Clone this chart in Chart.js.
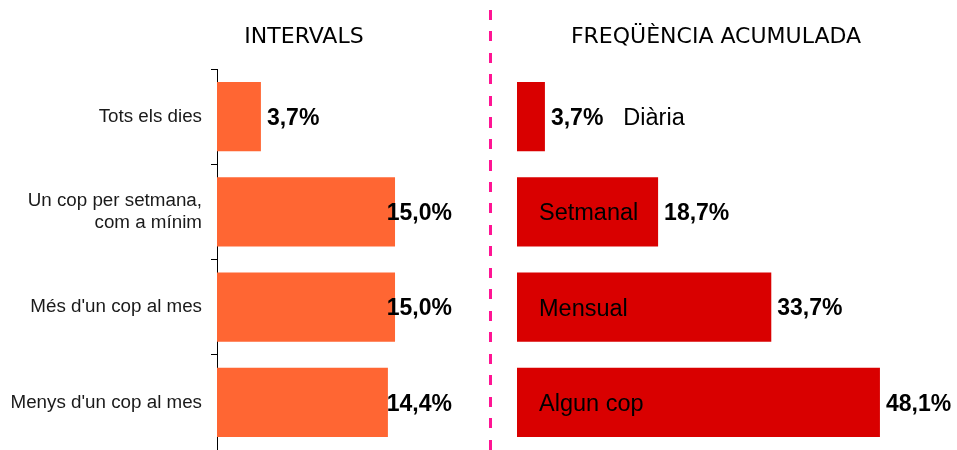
<!DOCTYPE html>
<html lang="ca">
<head>
  <meta charset="UTF-8">
  <title>Intervals i freqüència acumulada</title>
  <script src="https://cdn.jsdelivr.net/npm/chart.js"></script>
  <style>
    body {
      margin: 0;
      background: #ffffff;
      font-family: 'Liberation Sans', Arial, sans-serif;
    }
    .wrap {
      position: relative;
      width: 957px;
      height: 450px;
      overflow: hidden;
    }
    .box {
      position: absolute;
      top: 0;
      height: 450px;
    }
    .title {
      position: absolute;
      top: 23px;
      font-family: 'DejaVu Sans', sans-serif;
      font-size: 22px;
      color: #000;
      white-space: nowrap;
      transform: translateX(-50%);
    }
    .divider {
      position: absolute;
      left: 489px;
      top: 10px;
      width: 3px;
      height: 440px;
      background: repeating-linear-gradient(to bottom, #ff1493 0, #ff1493 10px, transparent 10px, transparent 21.5px);
    }
  </style>
</head>
<body>
  <div class="wrap">
    <div class="box" style="left:0;width:480px"><canvas id="intervalChart"></canvas></div>
    <div class="box" style="left:480px;width:477px"><canvas id="accumChart"></canvas></div>
    <div class="divider"></div>
    <div class="title" style="left:304px">INTERVALS</div>
    <div class="title" style="left:716px">FREQÜÈNCIA ACUMULADA</div>
  </div>

  <script>
    const categories = ["Tots els dies", ["Un cop per setmana,", "com a mínim"], "Més d'un cop al mes", "Menys d'un cop al mes"];
    const intervalValues = [3.7, 15.0, 15.0, 14.4];
    const accumNames = ["Diària", "Setmanal", "Mensual", "Algun cop"];
    const accumValues = [3.7, 18.7, 33.7, 48.1];

    const valueFont = 'bold 23px "Liberation Sans", Arial, sans-serif';
    const nameFont = '23.5px "Liberation Sans", Arial, sans-serif';

    function fmt(v) {
      return v.toFixed(1).replace('.', ',') + '%';
    }

    // value labels: after the bar, pulled back inside the plot when too long
    const valueLabels = {
      id: 'valueLabels',
      afterDatasetsDraw(chart, args, opts) {
        const ctx = chart.ctx;
        const area = chart.chartArea;
        const meta = chart.getDatasetMeta(0);
        const data = chart.data.datasets[0].data;
        ctx.save();
        ctx.textBaseline = 'middle';
        ctx.fillStyle = '#000';
        meta.data.forEach((bar, i) => {
          const txt = fmt(data[i]);
          ctx.font = valueFont;
          const w = ctx.measureText(txt).width;
          let x = bar.x + 6;
          if (opts.clamp && x + w > area.right) x = area.right - w;
          ctx.textAlign = 'left';
          ctx.fillText(txt, x, bar.y + 2);
          if (opts.names) {
            const name = opts.names[i];
            ctx.font = nameFont;
            const nw = ctx.measureText(name).width;
            if (area.left + 22 + nw + 10 < bar.x) {
              ctx.fillText(name, area.left + 22, bar.y + 2);
            } else {
              ctx.fillText(name, x + w + 20, bar.y + 2);
            }
          }
        });
        ctx.restore();
      }
    };

    Chart.defaults.font.family = '"Liberation Sans", Arial, sans-serif';
    Chart.defaults.color = '#1a1a1a';

    // INTERVALS
    new Chart(document.getElementById('intervalChart'), {
      type: 'bar',
      data: {
        labels: categories,
        datasets: [{
          data: intervalValues,
          backgroundColor: '#ff6633',
          barPercentage: 0.725,
          categoryPercentage: 1
        }]
      },
      plugins: [valueLabels],
      options: {
        indexAxis: 'y',
        responsive: true,
        maintainAspectRatio: false,
        animation: false,
        layout: { padding: { top: 69, right: 28, bottom: 0, left: 0 } },
        plugins: {
          legend: { display: false },
          tooltip: { enabled: false },
          valueLabels: { clamp: true }
        },
        scales: {
          x: { display: false, min: 0, max: 19.8 },
          y: {
            afterFit: s => {
              s.width = 217;
              s.paddingTop = 0;
              s.paddingBottom = 0;
            },
            border: { display: true, color: '#000', width: 1 },
            grid: { drawOnChartArea: false, drawTicks: true, tickLength: 6, color: '#000' },
            ticks: { padding: 9, font: { size: 18.8 }, color: '#1a1a1a' }
          }
        }
      }
    });

    // FREQÜÈNCIA ACUMULADA
    new Chart(document.getElementById('accumChart'), {
      type: 'bar',
      data: {
        labels: accumNames,
        datasets: [{
          data: accumValues,
          backgroundColor: '#d90000',
          barPercentage: 0.725,
          categoryPercentage: 1
        }]
      },
      plugins: [valueLabels],
      options: {
        indexAxis: 'y',
        responsive: true,
        maintainAspectRatio: false,
        animation: false,
        layout: { padding: { top: 69, right: 25, bottom: 0, left: 37 } },
        plugins: {
          legend: { display: false },
          tooltip: { enabled: false },
          valueLabels: { clamp: false, names: accumNames }
        },
        scales: {
          x: { display: false, min: 0, max: 55 },
          y: { display: false }
        }
      }
    });
  </script>
</body>
</html>
